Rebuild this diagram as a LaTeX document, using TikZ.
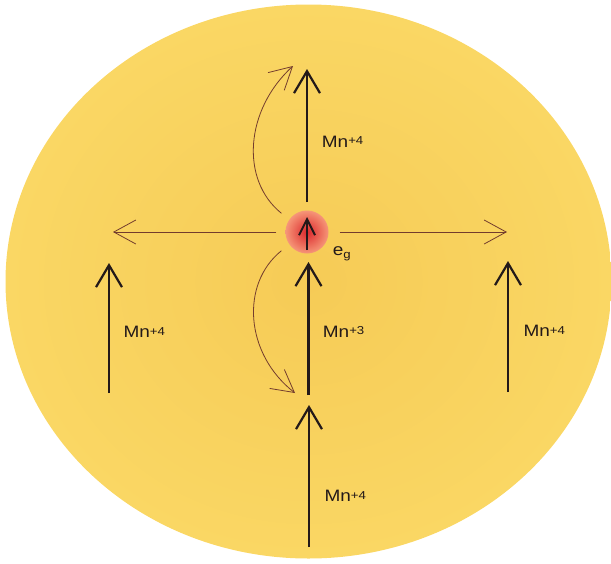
\documentclass[tikz,border=0pt]{standalone}
\usepackage{fontspec}
\setmainfont{Liberation Sans}
\usepackage{graphicx}
\usepackage{tikz}
\usetikzlibrary{arrows.meta}

\definecolor{discin}{RGB}{246,203,86}
\definecolor{discout}{RGB}{250,215,100}
\definecolor{hopline}{RGB}{115,60,45}
\definecolor{ink}{RGB}{35,25,25}
\definecolor{ballin}{RGB}{220,40,45}
\definecolor{ballout}{RGB}{246,150,120}

\newcommand{\mnion}[1]{\scalebox{1.15}[1]{Mn\raisebox{2.5pt}{\fontsize{11.5}{12}\selectfont +#1}}}

\begin{document}
\begin{tikzpicture}[x=1pt,y=-1pt,
  spin/.style={draw=ink,line width=2.2pt,-{Straight Barb[length=22pt,width=26pt]}},
  hop/.style={draw=hopline,line width=0.8pt,-{Straight Barb[length=22pt,width=24pt]}},
  lbl/.style={anchor=base west,inner sep=0pt,text=ink,font=\fontsize{16.5}{18}\selectfont}]
  \useasboundingbox (0,0) rectangle (611,563);
  \shade[inner color=discin,outer color=discout] (308.5,281.5) ellipse [x radius=303,y radius=277];

  % the five Mn spins
  \foreach \name/\x/\ytail/\ytip in {top/307/202/69,mid/308.5/395/262,bot/309/547/405,left/109/393/263,right/508/392/261} {
    \coordinate (\name tail) at (\x,\ytail);
    \coordinate (\name tip) at (\x,\ytip);
    \draw[spin] (\name tail) -- (\name tip);
  }

  % hopping electron
  \node[circle,minimum size=43pt,inner sep=0pt,shade,inner color=ballin,outer color=ballout] (eg) at (307,232) {};
  \coordinate (egtail) at (307,250);
  \coordinate (egtip) at (307,217);
  \draw[draw=ink,line width=2pt,-{Straight Barb[length=16pt,width=16pt]}] (egtail) -- (egtip);

  \coordinate (hleft) at (113,232);
  \coordinate (hright) at (507,232);
  \coordinate (hopup) at (293,66);
  \coordinate (hopdown) at (295,393);
  \draw[hop,shorten <=9pt] (eg.west) -- (hleft);
  \draw[hop,shorten <=11pt] (eg.east) -- (hright);
  \draw[hop,shorten <=10pt] (eg.145) .. controls (240,180) and (245,110) .. (hopup);
  \draw[hop,shorten <=10pt] (eg.215) .. controls (240,284) and (245,354) .. (hopdown);

  % labels
  \node[lbl] (ltop) at (321.7,147) {\mnion{4}};
  \node[lbl] (lmid) at (322.7,337.3) {\mnion{3}};
  \node[lbl] (lbot) at (324.3,501.7) {\mnion{4}};
  \node[lbl] (lleft) at (123.3,337.7) {\mnion{4}};
  \node[lbl] (lright) at (523.3,336.7) {\mnion{4}};
  \node[lbl] (leg) at (332.7,255) {\scalebox{1.15}[1]{e\raisebox{-3pt}{\fontsize{11.5}{12}\selectfont g}}};
\end{tikzpicture}
\end{document}
